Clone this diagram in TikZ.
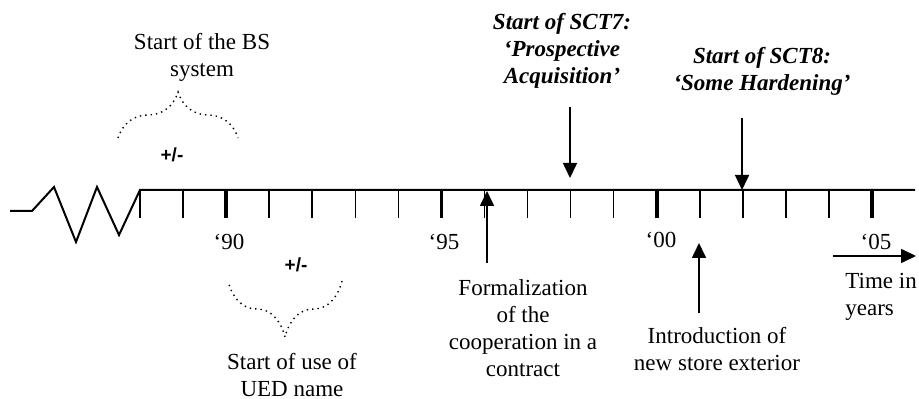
\documentclass[tikz,border=0pt]{standalone}
\usepackage{fontspec}
\setmainfont{Liberation Serif}
\newfontfamily\pmfont{Liberation Sans}
\usetikzlibrary{arrows.meta,decorations.pathreplacing}

\tikzset{
  lbl/.style={align=center, inner sep=0pt, font=\fontsize{11.5}{13.5}\selectfont},
  hdr/.style={lbl, font=\fontsize{11.5}{13.5}\selectfont\bfseries\itshape},
  pm/.style={inner sep=0pt, font=\pmfont\bfseries\fontsize{9.5}{11}\selectfont},
  axis/.style={line width=1pt},
  tick/.style={line width=0.75pt},
  yeartick/.style={line width=1.8pt},
  arr/.style={line width=0.8pt, -{Triangle[length=7.5pt,width=7pt]}},
  dotbrace/.style={dotted, line width=0.7pt, decorate, decoration={brace, amplitude=#1}}
}

\begin{document}
\begin{tikzpicture}
      [x=0.5pt, y=-0.5pt]
      \useasboundingbox (0,0) rectangle (919,399);
      % time axis
      \draw[axis](10,211) -- (32,211) -- (54,187) -- (76,242) -- (97,187) -- (119,235) -- (140,190) -- (915,190);
      \foreach \i in {0,...,17}
        \draw[tick](140+43.06*\i,190) -- ++(0,28);
      \foreach \i in {2,7,12,17}
        \draw[yeartick](140+43.06*\i,190) -- ++(0,28);
      \node[lbl](1) at (229,242) {‘90};
      \node[lbl](2) at (444,242) {‘95};
      \node[lbl](3) at (661,240) {‘00};
      \node[lbl](4) at (876,242) {‘05};
      % texts
      \node[lbl](5) at (202,57) {Start of the BS\\system};
      \node[lbl](6) at (292,375) {Start of use of\\UED name};
      \node[hdr](7) at (562,51) {Start of SCT7:\\‘Prospective\\Acquisition’};
      \node[hdr](8) at (762,71) {Start of SCT8:\\‘Some Hardening’};
      \node[lbl](9) at (523,328) {Formalization\\of the\\cooperation in a\\contract};
      \node[lbl](10) at (717,349) {Introduction of\\new store exterior};
      \node[lbl, align=left, anchor=west](11) at (845,297) {Time in\\years};
      \node[pm](12) at (172,155) {+/-};
      \node[pm](13) at (296,265) {+/-};
      % braces
      \coordinate(b1) at (118,138);
      \coordinate(b2) at (238,138);
      \coordinate(b3) at (342,281);
      \coordinate(b4) at (228,281);
      \draw[dotbrace=23pt](b1) -- (b2);
      \draw[dotbrace=28pt](b3) -- (b4);
      % arrows
      \coordinate(a1) at (570,107);
      \coordinate(a2) at (570,178);
      \coordinate(a3) at (742,118);
      \coordinate(a4) at (742,190);
      \coordinate(a5) at (487,263);
      \coordinate(a6) at (487,191);
      \coordinate(a7) at (699,313);
      \coordinate(a8) at (699,243);
      \coordinate(a9) at (833,256);
      \coordinate(a10) at (916,256);
      \draw[arr](a1) -- (a2);
      \draw[arr](a3) -- (a4);
      \draw[arr](a5) -- (a6);
      \draw[arr](a7) -- (a8);
      \draw[arr](a9) -- (a10);
  \end{tikzpicture}
\end{document}
